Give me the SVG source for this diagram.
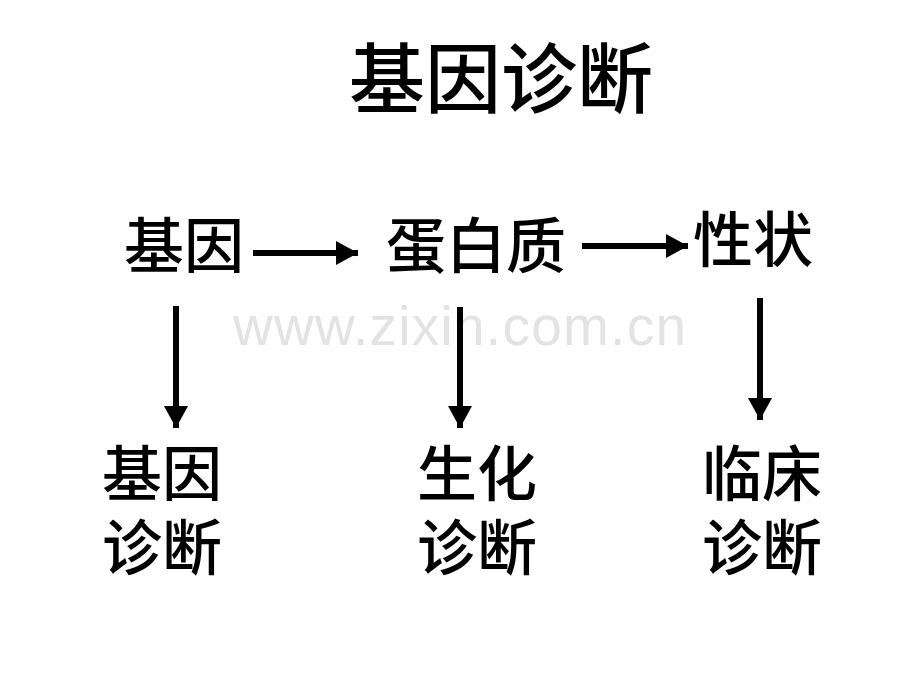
<svg xmlns="http://www.w3.org/2000/svg" width="920" height="690" viewBox="0 0 920 690">
<style>
.t{font-family:"Noto Sans CJK SC","Noto Sans CJK JP",sans-serif;font-weight:500;fill:#000}
.wm{font-family:"Liberation Sans",Arial,sans-serif;fill:#e3e3e3}
.ln{stroke:#000;stroke-width:6;fill:none}
</style>
<defs>
<marker id="ah" markerUnits="userSpaceOnUse" markerWidth="24" markerHeight="24" refX="22" refY="12" orient="auto">
<path d="M0,0 L22,12 L0,24 Z" fill="#000"/>
</marker>
</defs>
<rect width="920" height="690" fill="#fff"/>
<text class="wm" x="233" y="345" font-size="55" textLength="453" lengthAdjust="spacing">www.zixin.com.cn</text>
<g id="title"><text class="t" x="349" y="107" font-size="76">基因诊断</text></g>
<g id="gene"><text class="t" x="124" y="268" font-size="60">基因</text></g>
<g id="protein"><text class="t" x="386" y="268" font-size="60">蛋白质</text></g>
<g id="trait"><text class="t" x="693" y="262" font-size="60">性状</text></g>
<g id="gene-dx"><text class="t" font-size="60"><tspan x="102" y="496">基因</tspan><tspan x="102" y="570">诊断</tspan></text></g>
<g id="biochem-dx"><text class="t" font-size="60"><tspan x="417" y="496">生化</tspan><tspan x="417" y="570">诊断</tspan></text></g>
<g id="clinical-dx"><text class="t" font-size="60"><tspan x="702" y="496">临床</tspan><tspan x="702" y="570">诊断</tspan></text></g>
<g id="connectors">
<line class="ln" x1="253" y1="253" x2="358" y2="253" marker-end="url(#ah)"/>
<line class="ln" x1="582" y1="246" x2="688" y2="246" marker-end="url(#ah)"/>
<line class="ln" x1="176" y1="306" x2="176" y2="428" marker-end="url(#ah)"/>
<line class="ln" x1="460" y1="307" x2="460" y2="428" marker-end="url(#ah)"/>
<line class="ln" x1="760" y1="298" x2="760" y2="420" marker-end="url(#ah)"/>
</g>
</svg>
